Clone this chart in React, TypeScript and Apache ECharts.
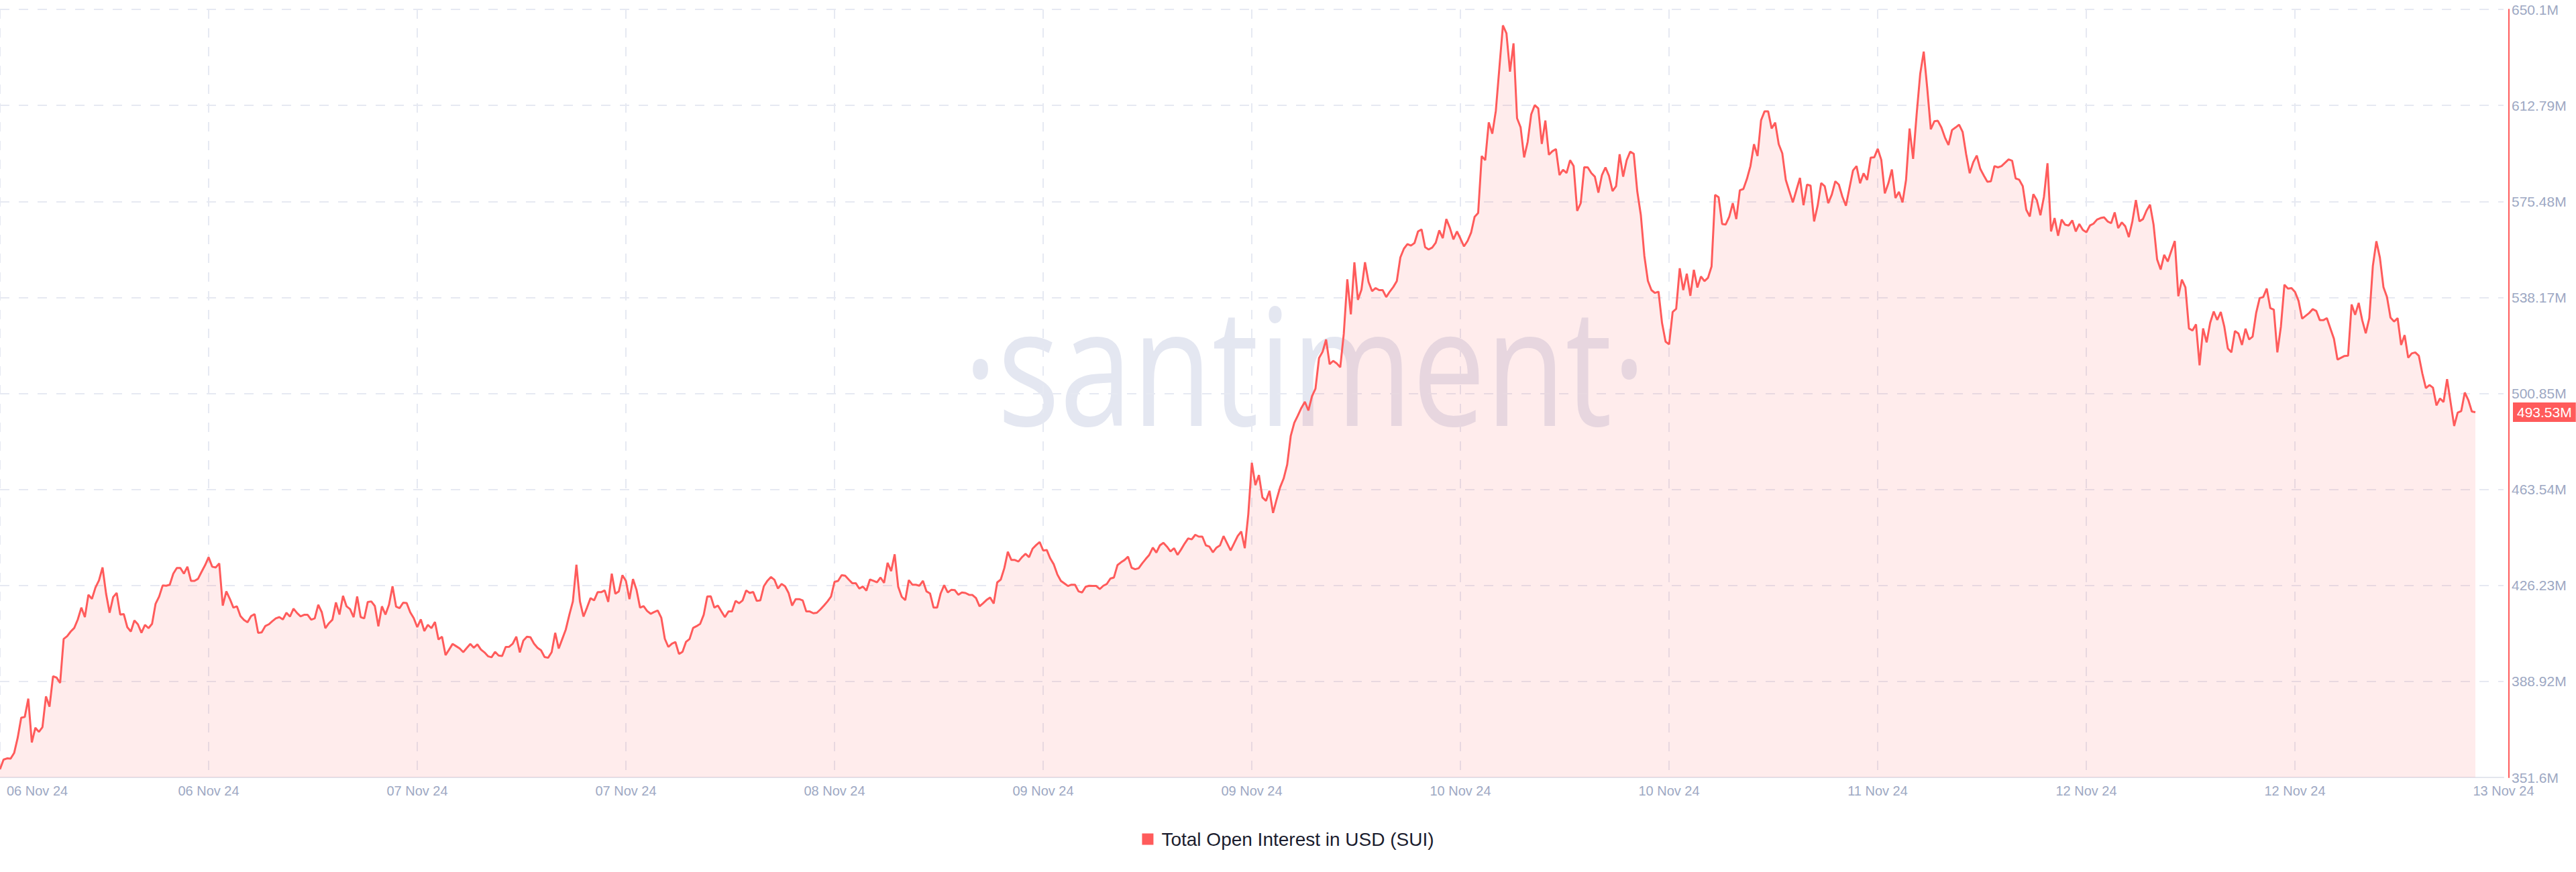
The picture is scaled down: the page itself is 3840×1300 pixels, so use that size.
import { useEffect, useRef } from "react";
import * as echarts from "echarts";

const seriesName = "Total Open Interest in USD (SUI)";
const xTickLabels = [
  "06 Nov 24", "06 Nov 24", "07 Nov 24", "07 Nov 24", "08 Nov 24", "09 Nov 24", "09 Nov 24",
  "10 Nov 24", "10 Nov 24", "11 Nov 24", "12 Nov 24", "12 Nov 24", "13 Nov 24",
];
const yTickLabels = [
  "351.6M", "388.92M", "426.23M", "463.54M", "500.85M", "538.17M", "575.48M", "612.79M", "650.1M",
];
const Y_MIN = 351.6;
const Y_MAX = 650.1;
const TICK_HOURS = 14;
const X_MAX_HOURS = 168;
const STEP_HOURS = 0.2373;
const lastValueLabel = "493.53M";

// Total open interest, USD millions, one value every ~14 minutes
const oiValues = [
  354.8, 358.5, 359.0, 358.9, 361.1, 367.0, 374.8, 375.1, 382.2, 365.2,
  370.9, 369.3, 371.1, 383.1, 379.1, 390.9, 390.4, 388.3, 405.4, 406.5,
  408.3, 409.7, 413.0, 417.6, 413.9, 422.6, 421.0, 425.4, 428.2, 433.2,
  423.0, 415.6, 421.7, 423.3, 414.9, 415.1, 410.0, 408.3, 412.6, 411.1,
  407.8, 410.9, 409.6, 411.3, 419.1, 421.9, 426.2, 426.1, 426.5, 430.8,
  433.0, 433.0, 430.8, 433.5, 428.0, 428.0, 428.8, 431.5, 434.1, 437.2,
  433.5, 433.2, 434.8, 418.4, 423.9, 421.0, 417.6, 418.1, 414.3, 412.8,
  411.9, 414.3, 415.1, 407.8, 408.0, 410.4, 411.1, 412.3, 413.4, 413.9,
  413.0, 415.6, 414.1, 417.2, 415.5, 414.2, 414.8, 414.8, 412.9, 413.4,
  418.7, 415.8, 409.6, 411.5, 412.9, 419.6, 414.9, 422.2, 418.1, 417.0,
  413.9, 421.9, 413.9, 413.4, 419.8, 420.0, 418.2, 410.3, 418.1, 414.9,
  418.7, 425.9, 418.0, 417.4, 419.5, 419.4, 415.8, 413.5, 410.0, 413.0,
  408.5, 410.9, 409.6, 412.0, 405.2, 406.3,
  399.1, 401.3, 403.5, 402.6, 401.7, 400.3, 401.9, 403.5, 402.0, 403.3,
  401.3, 400.2, 398.7, 398.3, 400.4, 399.0, 398.8, 402.3, 402.4, 403.6,
  406.3, 400.2, 404.8, 406.3, 406.1, 403.6, 402.0, 401.0, 398.4, 398.1,
  400.3, 407.8, 401.7, 405.4, 409.1, 414.8, 420.0, 434.3, 420.0, 414.1,
  417.6, 421.3, 420.4, 423.6, 423.6, 424.3, 419.8, 430.8, 423.0, 423.9,
  430.2, 428.0, 420.9, 428.7, 424.5, 417.6, 418.2, 416.3, 415.2, 415.9,
  416.5, 413.7, 405.5, 402.3, 403.6, 404.2, 399.6, 400.4, 404.3, 405.4,
  409.7, 410.4, 411.3, 414.8, 421.9, 422.0, 417.6, 418.4, 416.1, 413.9,
  416.1, 416.1, 420.2, 419.3, 420.4, 424.3, 423.3, 423.7, 420.2, 420.4,
  425.9, 428.0, 429.5, 428.4, 425.0, 426.8, 425.9, 423.3, 418.4, 420.9,
  420.9, 420.4, 416.1, 416.1, 415.4, 415.6, 416.9, 418.4, 420.0, 421.9,
  427.6, 428.0, 430.2, 430.0, 428.5, 427.1, 427.1, 425.0, 425.8, 424.2,
  428.5,
  428.0, 427.4, 429.3, 427.2, 435.0, 431.8, 438.3, 425.7, 421.8, 420.5,
  428.3, 426.5, 426.5, 426.1, 428.0, 423.9, 423.1, 417.6, 417.6, 423.1,
  426.3, 423.5, 424.5, 424.4, 422.6, 423.5, 423.3, 422.6, 422.5, 421.3,
  418.1, 419.3, 420.6, 421.5, 419.2, 427.4, 428.5, 432.9, 439.3, 436.1,
  436.1, 435.5, 437.2, 438.5, 437.2, 440.5, 441.9, 443.1, 439.8, 440.0,
  436.7, 434.4, 430.5, 428.0, 427.0, 426.0, 426.5, 426.5, 423.9, 423.5,
  425.7, 426.1, 426.0, 426.0, 424.8, 426.1, 426.8, 428.9, 429.3, 434.1,
  435.2, 436.1, 437.4, 433.1, 432.5, 432.9, 434.8, 436.5, 438.1, 440.9,
  439.0, 441.8, 442.8, 441.3, 439.4, 440.7, 438.1, 440.2, 442.5, 444.5,
  444.1, 445.9, 445.2, 445.2, 441.8, 441.3, 439.1, 440.9, 441.8, 445.4,
  442.6, 439.8, 442.6, 445.4, 447.2, 440.7, 453.9, 473.9, 465.2, 469.1,
  460.4, 459.1, 463.0, 454.4, 459.6, 464.4, 467.8, 473.2, 484.3, 489.4,
  492.2, 495.2,
  497.6, 494.2, 499.7, 502.7, 514.6, 517.0, 521.8, 512.2, 513.5, 512.5,
  511.0, 524.0, 545.2, 531.6, 551.8, 537.2, 541.2, 551.8, 544.2, 540.6,
  541.8, 541.0, 541.0, 538.3, 540.4, 542.2, 544.5, 553.7, 557.1, 558.9,
  558.3, 559.3, 563.8, 564.6, 557.7, 556.8, 557.5, 559.4, 564.2, 561.2,
  568.6, 565.2, 560.7, 563.8, 561.0, 558.0, 560.1, 563.3, 569.5, 571.0,
  593.1, 591.5, 606.2, 601.8, 610.7, 627.4, 643.9, 640.8, 625.9, 636.9,
  607.8, 604.3, 592.6, 598.6, 609.3, 612.9, 611.6, 597.8, 606.9, 593.6,
  595.0, 595.8, 585.7, 587.8, 586.5, 591.5, 589.2, 571.8, 574.8, 588.8,
  588.7, 586.5, 585.1, 578.9, 585.7, 588.7, 585.4, 579.5, 581.4, 593.8,
  585.1, 591.5, 594.8, 594.0, 579.3, 570.2, 554.3, 544.6, 541.0, 539.9,
  540.4, 528.2, 521.0, 519.9, 532.5, 533.7, 549.5, 541.0, 547.4, 538.8,
  548.9, 542.0, 546.3, 544.5, 545.8, 550.2, 578.0, 577.1, 566.7, 566.5,
  569.5, 574.8, 568.6, 579.8, 580.3,
  584.2, 589.2, 597.7, 593.1, 607.0, 610.5, 610.5, 603.8, 606.1, 597.7,
  594.2, 583.8, 579.4, 575.1, 579.9, 584.6, 574.0, 582.0, 581.6, 567.7,
  573.8, 582.6, 581.4, 574.8, 578.1, 583.3, 582.0, 577.3, 573.8, 580.7,
  587.5, 589.2, 582.5, 586.4, 583.8, 592.5, 592.6, 595.9, 591.6, 578.6,
  582.5, 587.9, 576.8, 579.2, 575.1, 583.8, 603.8, 592.0, 609.4, 625.0,
  633.7, 619.4, 603.5, 606.6, 606.8, 604.2, 600.3, 597.4, 603.2, 604.2,
  605.3, 602.5, 593.8, 586.4, 590.7, 593.3, 588.1, 585.5, 583.1, 583.3,
  589.2, 588.7, 589.2, 590.5, 591.8, 591.3, 584.4, 583.9, 581.4, 572.2,
  569.6, 578.3, 575.9, 570.1, 577.3, 590.3, 563.8, 569.0, 562.1, 568.4,
  566.4, 566.1, 568.1, 563.8, 566.7, 564.4, 563.5, 566.1, 566.8, 568.4,
  569.0, 569.3, 567.7, 567.0, 571.2, 565.1, 567.3, 565.8, 561.6, 567.7,
  576.0, 567.7, 568.6, 571.9, 574.2, 566.4, 552.9, 549.0, 554.7, 552.1,
  556.2, 560.1, 538.6, 545.1, 542.1,
  526.1, 525.3, 527.7, 511.8, 526.1, 520.7, 528.3, 532.7, 529.4, 532.5,
  526.8, 518.3, 516.8, 525.1, 524.1, 519.7, 526.0, 521.8, 522.9, 532.1,
  537.9, 538.3, 541.6, 534.0, 533.4, 516.8, 526.8, 543.1, 541.6, 541.8,
  540.3, 536.8, 529.9, 531.0, 532.1, 533.6, 532.9, 529.3, 529.3, 530.1,
  526.1, 522.1, 514.0, 514.7, 515.4, 515.5, 535.4, 531.4, 536.0, 529.3,
  524.2, 530.1, 550.3, 560.0, 553.6, 542.2, 538.3, 530.3, 528.8, 530.1,
  519.7, 523.5, 514.7, 516.4, 516.8, 515.5, 508.6, 502.9, 504.1, 503.1,
  496.2, 498.9, 497.5, 506.4, 497.3, 488.2, 493.4, 494.0, 501.2, 498.3,
  493.8, 493.53,
];

const FONT = "'Liberation Sans', Arial, Helvetica, sans-serif";
const LABEL_COLOR = "#9da8c3";
const GRID_COLOR = "#e6e9f2";
const RED = "#ff5b5b";

export default function App() {
  const ref = useRef<HTMLDivElement>(null);

  useEffect(() => {
    if (!ref.current) return;
    const chart = echarts.init(ref.current, undefined, { renderer: "svg" });
    const data = oiValues.map((v, i) => [i * STEP_HOURS, v]);
    const lastValue = oiValues[oiValues.length - 1];

    chart.setOption({
      animation: false,
      backgroundColor: "#ffffff",
      grid: { left: 0, right: 108, top: 14, bottom: 141, containLabel: false },
      graphic: [
        {
          type: "text",
          z: -10,
          silent: true,
          x: 1945,
          y: 541,
          scaleX: 0.8,
          style: {
            text: "·santiment·",
            fontSize: 243,
            fontFamily: "'Open Sans', sans-serif",
            fill: "#e4e7f1",
            align: "center",
            verticalAlign: "middle",
          },
        },
      ],
      legend: {
        data: [seriesName],
        top: 1232,
        left: "center",
        icon: "rect",
        itemWidth: 17,
        itemHeight: 17,
        selectedMode: false,
        textStyle: { fontSize: 28, color: "#1b1d2e", fontFamily: FONT, padding: [0, 0, 0, 7] },
      },
      xAxis: {
        type: "value",
        min: 0,
        max: X_MAX_HOURS,
        interval: TICK_HOURS,
        axisLine: { show: true, onZero: false, lineStyle: { color: "#e3e6ee", width: 2 } },
        axisTick: { show: false },
        splitLine: {
          show: true,
          showMaxLine: false,
          lineStyle: { color: GRID_COLOR, width: 2, type: [14, 14] },
        },
        axisLabel: {
          margin: 10,
          fontSize: 20,
          color: LABEL_COLOR,
          fontFamily: FONT,
          alignMinLabel: "left",
          formatter: (v: number) => {
            const k = Math.round(v / TICK_HOURS);
            if (Math.abs(v - k * TICK_HOURS) > 0.01) return "";
            if (k === 0) return `{first|${xTickLabels[0]}}`;
            return xTickLabels[k] ?? "";
          },
          rich: {
            first: { padding: [0, 0, 0, 10], fontSize: 20, color: LABEL_COLOR, fontFamily: FONT },
          },
        },
      },
      yAxis: [
        {
          type: "value",
          position: "right",
          offset: 8,
          min: Y_MIN,
          max: Y_MAX,
          axisLine: { show: true, onZero: false, lineStyle: { color: RED, width: 2 } },
          axisTick: { show: false },
          axisLabel: { show: false },
          splitLine: { show: false },
        },
        {
          type: "value",
          position: "right",
          offset: 8,
          min: 0,
          max: yTickLabels.length - 1,
          interval: 1,
          axisLine: { show: false, onZero: false },
          axisTick: { show: false },
          axisLabel: {
            margin: 4,
            fontSize: 21,
            color: LABEL_COLOR,
            fontFamily: FONT,
            formatter: (v: number) => yTickLabels[Math.round(v)] ?? "",
          },
          splitLine: { show: true, lineStyle: { color: GRID_COLOR, width: 2, type: [14, 14] } },
        },
      ],
      series: [
        {
          name: seriesName,
          type: "line",
          yAxisIndex: 0,
          data,
          showSymbol: false,
          symbol: "none",
          lineStyle: { color: RED, width: 3 },
          itemStyle: { color: RED },
          areaStyle: { color: "rgba(255, 90, 90, 0.16)" },
          markLine: {
            silent: true,
            symbol: ["none", "none"],
            lineStyle: { color: "transparent", width: 0, type: "solid" },
            data: [{ yAxis: lastValue }],
            label: {
              show: true,
              position: "end",
              distance: 14,
              formatter: lastValueLabel,
              color: "#ffffff",
              backgroundColor: RED,
              padding: [5, 6, 3, 6],
              fontSize: 21,
              fontFamily: FONT,
            },
          },
        },
      ],
    });

    return () => chart.dispose();
  }, []);

  return (
    <div
      ref={ref}
      style={{ position: "fixed", left: 0, top: 0, width: 3840, height: 1300, background: "#fff" }}
    />
  );
}
